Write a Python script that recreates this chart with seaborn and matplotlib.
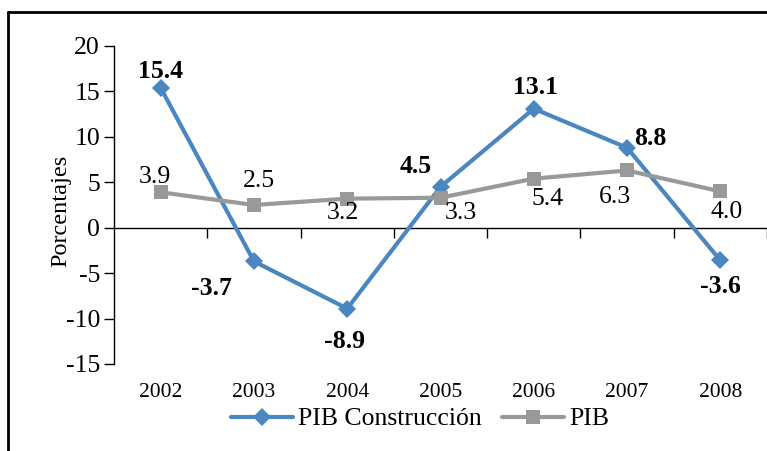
import matplotlib
matplotlib.use('Agg')
import matplotlib.pyplot as plt
import matplotlib.transforms as mtransforms
from matplotlib.lines import Line2D
import seaborn as sns
import pandas as pd

# ---- data ----
years = [2002, 2003, 2004, 2005, 2006, 2007, 2008]
pib_construccion = [15.4, -3.7, -8.9, 4.5, 13.1, 8.8, -3.6]
pib = [3.9, 2.5, 3.2, 3.3, 5.4, 6.3, 4.0]
series_names = ['PIB Construcción', 'PIB']
y_ticks = [-15, -10, -5, 0, 5, 10, 15, 20]
y_label = 'Porcentajes'

# label offsets in pixels (dx, dy downward)
off_constr = [(0, -16), (-42, 27), (-3, 33), (-25, -20), (2, -21), (23, -9), (0, 26)]
off_pib = [(-6, -15), (5, -24), (-4, 14), (20, 15), (14, 20), (-12, 27), (6, 21)]

sns.set_style('white')
plt.rcParams['font.family'] = ['Liberation Serif', 'DejaVu Serif']
plt.rcParams['axes.unicode_minus'] = False
plt.rcParams['text.color'] = 'black'
plt.rcParams['xtick.color'] = 'black'
plt.rcParams['ytick.color'] = 'black'
plt.rcParams['axes.labelcolor'] = 'black'

blue = '#4A86BF'
gray = '#999999'

df_c = pd.DataFrame({'Año': years, 'Valor': pib_construccion})
df_p = pd.DataFrame({'Año': years, 'Valor': pib})

W, H = 767, 451
fig = plt.figure(figsize=(W / 100, H / 100), dpi=100)
ax = fig.add_axes([114 / W, 1 - 364 / H, 653 / W, 318 / H])

sns.lineplot(data=df_c, x='Año', y='Valor', color=blue, linewidth=3, marker='D',
             markersize=9.5, markeredgewidth=0, ax=ax, legend=False, zorder=3)
sns.lineplot(data=df_p, x='Año', y='Valor', color=gray, linewidth=3, marker='s',
             markersize=10, markeredgewidth=0, ax=ax, legend=False, zorder=4)

ax.set_xlim(years[0] - 0.5, years[-1] + 0.5)
ax.set_ylim(y_ticks[0], y_ticks[-1])
ax.set_yticks(y_ticks)
ax.set_yticklabels([str(t) for t in y_ticks])
ax.tick_params(axis='y', length=7, width=1, direction='out', labelsize=18.5, pad=3, left=True)

for s in ['top', 'right']:
    ax.spines[s].set_visible(False)
ax.spines['left'].set_color('black')
ax.spines['left'].set_linewidth(1)
ax.spines['bottom'].set_position(('data', 0))
ax.spines['bottom'].set_color('black')
ax.spines['bottom'].set_linewidth(1)

ax.set_xticks([y + 0.5 for y in years])
ax.tick_params(axis='x', length=7, width=1, direction='out', labelbottom=False, bottom=True)

trans = mtransforms.blended_transform_factory(ax.transData, ax.transAxes)
for yr in years:
    ax.text(yr, -0.091, str(yr), transform=trans, ha='center', va='center', fontsize=15.5)

ax.set_xlabel('')
ax.set_ylabel(y_label, fontsize=17.5)
ax.yaxis.set_label_coords(-0.066, 0.48)

px = 72 / 100
for yr, v, (dx, dy) in zip(years, pib_construccion, off_constr):
    ax.annotate(f'{v:.1f}', (yr, v), xytext=(dx * px, -dy * px), textcoords='offset points',
                ha='center', va='center', fontsize=18.5, fontweight='bold', zorder=5)
for yr, v, (dx, dy) in zip(years, pib, off_pib):
    ax.annotate(f'{v:.1f}', (yr, v), xytext=(dx * px, -dy * px), textcoords='offset points',
                ha='center', va='center', fontsize=18.5, zorder=5)

handles = [Line2D([], [], color=blue, lw=3, marker='D', markersize=9.5, markeredgewidth=0),
           Line2D([], [], color=gray, lw=3, marker='s', markersize=10, markeredgewidth=0)]
fig.legend(handles, series_names, loc='center', bbox_to_anchor=(0.548, 1 - 419 / H), ncol=2,
           frameon=False, fontsize=18.5, handlelength=2.4, columnspacing=0.8, handletextpad=0.2)

# outer frame (top and left only visible)
fig.add_artist(Line2D([8 / W, 1], [1 - 12 / H, 1 - 12 / H], transform=fig.transFigure, color='black', lw=2))
fig.add_artist(Line2D([8 / W, 8 / W], [0, 1 - 12 / H], transform=fig.transFigure, color='black', lw=2))

fig.savefig('out.png', dpi=100)
